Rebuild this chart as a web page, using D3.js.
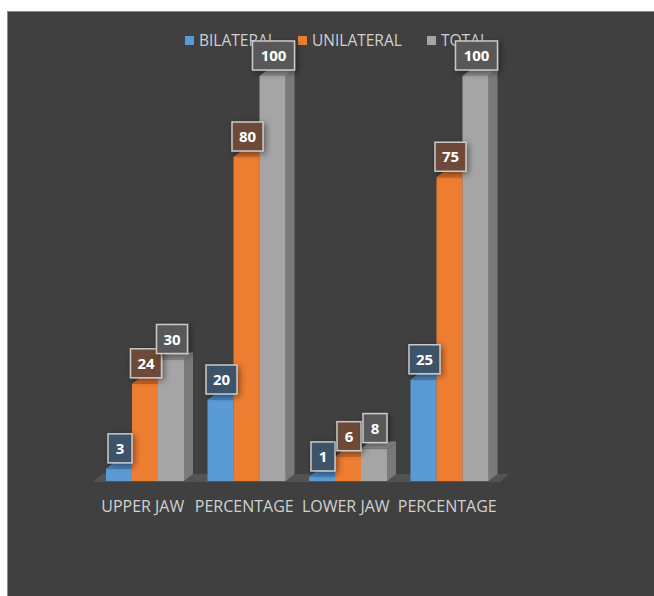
<!DOCTYPE html>
<html><head><meta charset="utf-8">
<script src="https://cdn.jsdelivr.net/npm/d3@7"></script>
<style>body{margin:0;background:#fff;}svg{display:block;}</style>
</head><body>
<script>
const categories = ["UPPER JAW", "PERCENTAGE", "LOWER JAW", "PERCENTAGE "];
const series = ["BILATERAL", "UNILATERAL", "TOTAL"];
const bilateral = [3, 20, 1, 25];
const unilateral = [24, 80, 6, 75];
const total = [30, 100, 8, 100];
const values = [bilateral, unilateral, total];

const colors = {front: ["#5b9bd5", "#ed7d31", "#a5a5a5"],
  side: ["#3f70a0", "#b55d22", "#7a7a7a"],
  top: ["#4a86bf", "#d06b28", "#8e8e8e"],
  label: ["#3e5369", "#6c4a37", "#595959"]};

const W = 654, H = 596;
const svg = d3.select("body").append("svg").attr("width", W).attr("height", H);
const defs = svg.append("defs");
const f = defs.append("filter").attr("id", "sh").attr("x", "-50%").attr("y", "-50%").attr("width", "200%").attr("height", "200%");
f.append("feDropShadow").attr("dx", 2).attr("dy", 2).attr("stdDeviation", 3).attr("flood-color", "#000").attr("flood-opacity", 0.45);

svg.append("rect").attr("x", 7.5).attr("y", 11.5).attr("width", W).attr("height", H)
  .attr("fill", "#404040").attr("stroke", "#8a8a8a").attr("stroke-width", 1);

const x0 = d3.scaleBand().domain(categories).range([93, 499]);
const x1 = d3.scaleBand().domain(series).range([13, 91]);
const y = d3.scaleLinear().domain([0, 100]).range([481, 76]);
const dx = 9, dy = -7;

// floor
const fy = y(0) + 1;
svg.append("polygon")
  .attr("points", [[x0.range()[0], fy], [x0.range()[1] + 1, fy], [x0.range()[1] + 1 + dx, fy + dy - 1], [x0.range()[0] + dx, fy + dy - 1]].map(p => p.join(",")).join(" "))
  .attr("fill", "#535353");

// legend (drawn below data labels, which overlap it)
const lg = svg.append("g").attr("font-family", "'Open Sans', sans-serif").attr("font-size", 15.5).attr("fill", "#d0d0d0");
const legX = [185, 298, 427];
series.forEach((s, si) => {
  lg.append("rect").attr("x", legX[si]).attr("y", 36).attr("width", 9).attr("height", 9).attr("fill", colors.front[si]);
  lg.append("text").attr("x", legX[si] + 14).attr("y", 46).text(s);
});

// bars
const g = svg.append("g");
categories.forEach((c, ci) => {
  series.forEach((s, si) => {
    const v = values[si][ci];
    const xl = x0(c) + x1(s), w = x1.bandwidth();
    const yt = y(v), yb = y(0);
    const bg = g.append("g");
    bg.append("polygon").attr("points", [[xl + w, yb], [xl + w + dx, yb + dy], [xl + w + dx, yt + dy], [xl + w, yt]].map(p => p.join(",")).join(" "))
      .attr("fill", colors.side[si]);
    bg.append("polygon").attr("points", [[xl, yt], [xl + dx, yt + dy], [xl + w + dx, yt + dy], [xl + w, yt]].map(p => p.join(",")).join(" "))
      .attr("fill", colors.top[si]);
    bg.append("rect").attr("x", xl).attr("y", yt).attr("width", w).attr("height", yb - yt)
      .attr("fill", colors.front[si]);
  });
});

// axis labels
const ax = svg.append("g").attr("font-family", "'Open Sans', sans-serif").attr("font-size", 16).attr("fill", "#d0d0d0").attr("text-anchor", "middle");
categories.forEach(c => {
  ax.append("text").attr("x", x0(c) + x0.bandwidth() / 2 - 1).attr("y", 512).text(c.trim());
});

// data labels
const dl = svg.append("g").attr("font-family", "'Open Sans', sans-serif").attr("font-size", 15).attr("font-weight", "bold");
categories.forEach((c, ci) => {
  series.forEach((s, si) => {
    const v = values[si][ci];
    const cx = x0(c) + x1(s) + x1.bandwidth() / 2 + 1;
    const t = String(v);
    const bw = t.length === 1 ? 24 : t.length === 2 ? 31 : 42;
    const bh = 29;
    const yb = y(v) - 6;
    const lgp = dl.append("g");
    lgp.append("rect").attr("x", cx - bw / 2).attr("y", yb - bh).attr("width", bw).attr("height", bh)
      .attr("fill", colors.label[si]).attr("stroke", "#c9c9c9").attr("stroke-width", 1.5).attr("filter", "url(#sh)");
    lgp.append("text").attr("x", cx).attr("y", yb - bh / 2 + 5.5).attr("text-anchor", "middle").attr("fill", "#ffffff").text(t);
  });
});
</script>
</body></html>
